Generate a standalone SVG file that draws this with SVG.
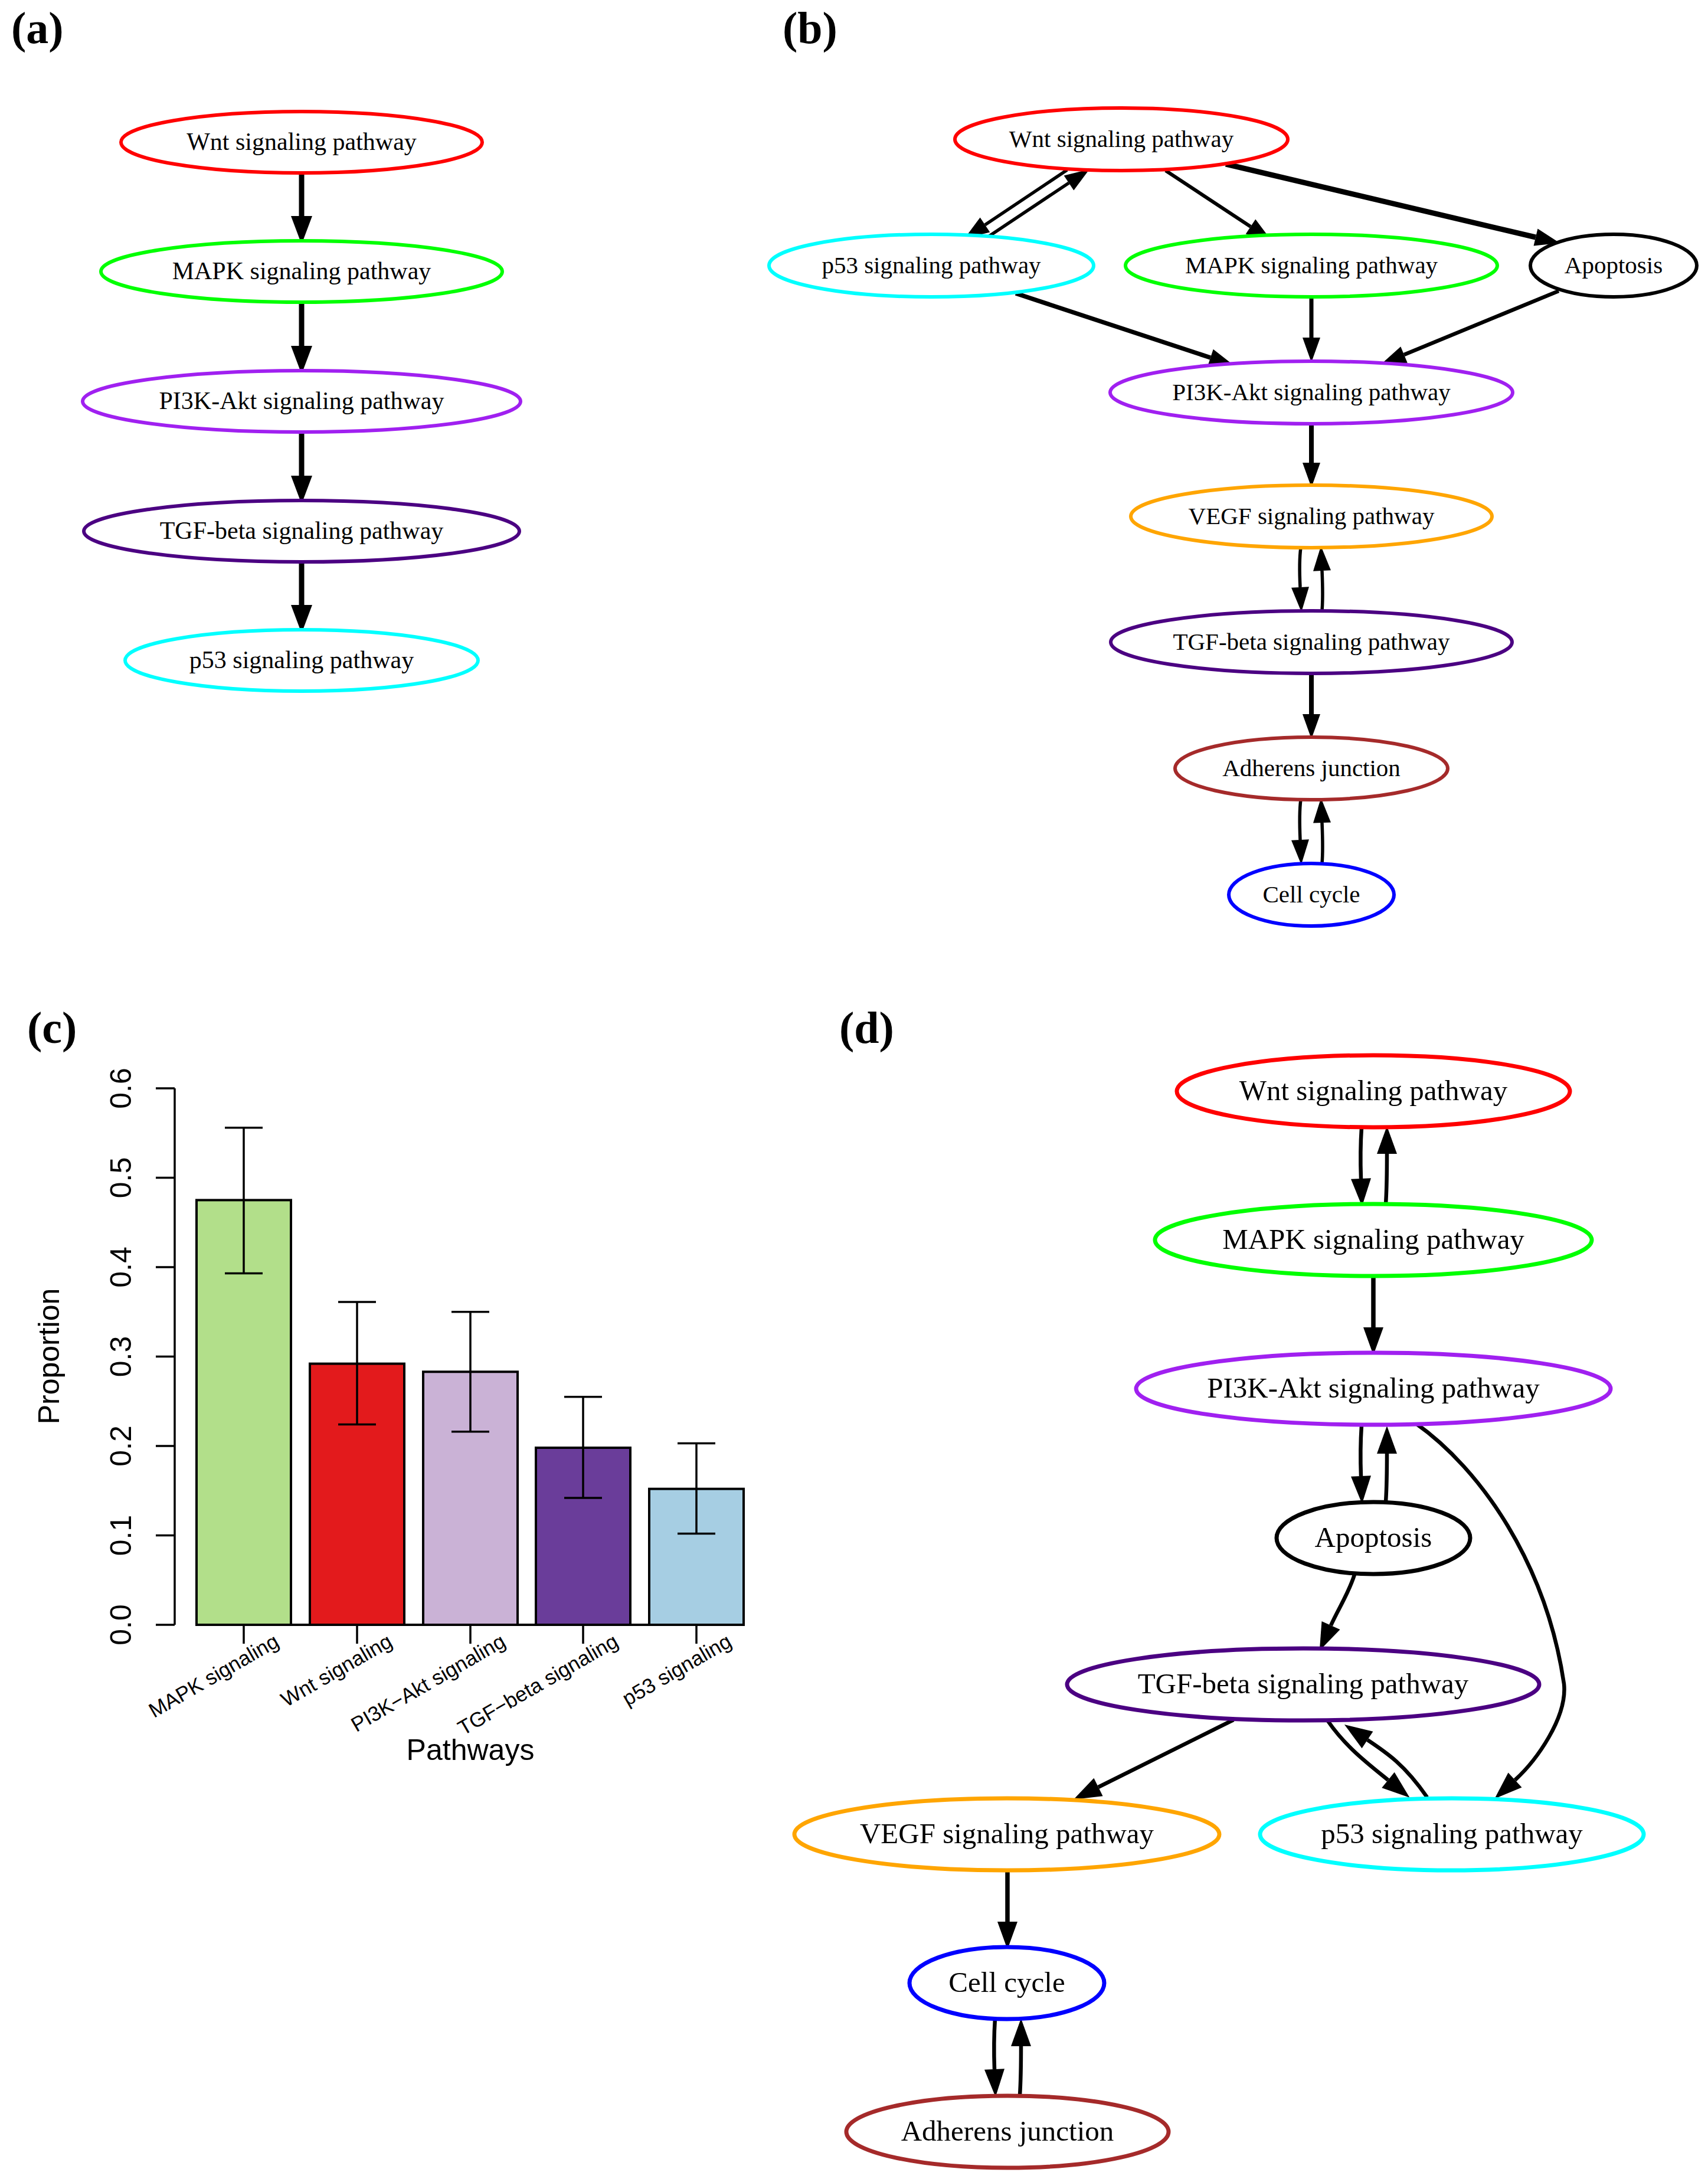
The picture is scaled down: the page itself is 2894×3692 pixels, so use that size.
<svg xmlns="http://www.w3.org/2000/svg" width="2894" height="3692" viewBox="0 0 2894 3692">
<style>
.lbl{font-family:"Liberation Serif","Times New Roman",serif;font-weight:bold;font-size:76px;fill:#000}
.na{font-family:"Liberation Serif","Times New Roman",serif;font-size:42px;text-anchor:middle;fill:#000}
.nb{font-family:"Liberation Serif","Times New Roman",serif;font-size:41px;text-anchor:middle;fill:#000}
.nd{font-family:"Liberation Serif","Times New Roman",serif;font-size:49px;text-anchor:middle;fill:#000}
.e6{fill:#fff;stroke-width:6}
.e7{fill:#fff;stroke-width:7}
.ea{fill:none;stroke:#000;stroke-width:9;marker-end:url(#arrA)}
.eb{fill:none;stroke:#000;stroke-width:5.5;marker-end:url(#arrB)}
.ed{fill:none;stroke:#000;stroke-width:6.5;marker-end:url(#arrD)}
.ax{font-family:"Liberation Sans",Arial,sans-serif;fill:#000}
.bar{stroke:#000;stroke-width:4}
.k{stroke:#000;stroke-width:3.5;fill:none}
</style>
<defs>
<marker id="arrA" markerUnits="userSpaceOnUse" markerWidth="48" markerHeight="36" refX="0" refY="18" orient="auto" overflow="visible"><path d="M0,0 L48,18 L0,36 Z" fill="#000"/></marker>
<marker id="arrB" markerUnits="userSpaceOnUse" markerWidth="42" markerHeight="30" refX="0" refY="15" orient="auto" overflow="visible"><path d="M0,0 L42,15 L0,30 Z" fill="#000"/></marker>
<marker id="arrD" markerUnits="userSpaceOnUse" markerWidth="47" markerHeight="34" refX="0" refY="17" orient="auto" overflow="visible"><path d="M0,0 L47,17 L0,34 Z" fill="#000"/></marker>
</defs>
<rect x="0" y="0" width="2894" height="3692" fill="#fff"/>

<!-- panel labels -->
<text class="lbl" x="19" y="73">(a)</text>
<text class="lbl" x="1326" y="73">(b)</text>
<text class="lbl" x="46" y="1767">(c)</text>
<text class="lbl" x="1422" y="1767">(d)</text>

<!-- ===== Panel (a) ===== -->
<g id="a-connectors">
<path class="ea" d="M511,293 L511,366"/>
<path class="ea" d="M511,512 L511,586"/>
<path class="ea" d="M511,732 L511,806"/>
<path class="ea" d="M511,952 L511,1025"/>
</g>
<g id="a-wnt"><ellipse class="e6" cx="511" cy="241" rx="306" ry="52" stroke="#FF0000"/><text class="na" x="511" y="254">Wnt signaling pathway</text></g>
<g id="a-mapk"><ellipse class="e6" cx="511" cy="460" rx="340" ry="52" stroke="#00FF00"/><text class="na" x="511" y="473">MAPK signaling pathway</text></g>
<g id="a-pi3k"><ellipse class="e6" cx="511" cy="680" rx="371" ry="52" stroke="#A020F0"/><text class="na" x="511" y="693">PI3K-Akt signaling pathway</text></g>
<g id="a-tgf"><ellipse class="e6" cx="511" cy="900" rx="369" ry="52" stroke="#4B0082"/><text class="na" x="511" y="913">TGF-beta signaling pathway</text></g>
<g id="a-p53"><ellipse class="e6" cx="511" cy="1119" rx="299" ry="52" stroke="#00FFFF"/><text class="na" x="511" y="1132">p53 signaling pathway</text></g>

<!-- ===== Panel (b) ===== -->
<g id="b-connectors">
<path class="eb" d="M1808,288 L1669,381"/>
<path class="eb" d="M1670,404 L1811,310"/>
<path class="eb" style="stroke-width:6" d="M1975,289 L2119,384"/>
<path class="eb" style="stroke-width:9" d="M2077,278 L2602,402"/>
<path class="eb" style="stroke-width:7.5" d="M1721,497 L2051,606"/>
<path class="eb" style="stroke-width:7" d="M2222,503 L2222,572"/>
<path class="eb" style="stroke-width:6.5" d="M2641,493 L2379,601"/>
<path class="eb" style="stroke-width:8" d="M2222,718 L2222,784"/>
<path class="eb" d="M2204,928 C2201,950 2202,975 2203,995"/>
<path class="eb" d="M2240,1035 C2242,1010 2241,990 2240,967"/>
<path class="eb" style="stroke-width:8" d="M2222,1141 L2222,1210"/>
<path class="eb" d="M2204,1355 C2201,1377 2202,1400 2203,1423"/>
<path class="eb" d="M2240,1463 C2242,1440 2241,1418 2240,1394"/>
</g>
<g id="b-wnt"><ellipse class="e6" cx="1900" cy="236" rx="282" ry="53" stroke="#FF0000"/><text class="nb" x="1900" y="249">Wnt signaling pathway</text></g>
<g id="b-p53"><ellipse class="e6" cx="1578" cy="450" rx="275" ry="53" stroke="#00FFFF"/><text class="nb" x="1578" y="463">p53 signaling pathway</text></g>
<g id="b-mapk"><ellipse class="e6" cx="2222" cy="450" rx="315" ry="53" stroke="#00FF00"/><text class="nb" x="2222" y="463">MAPK signaling pathway</text></g>
<g id="b-apoptosis"><ellipse class="e6" cx="2734" cy="450" rx="141" ry="53" stroke="#000000"/><text class="nb" x="2734" y="463">Apoptosis</text></g>
<g id="b-pi3k"><ellipse class="e6" cx="2222" cy="665" rx="341" ry="53" stroke="#A020F0"/><text class="nb" x="2222" y="678">PI3K-Akt signaling pathway</text></g>
<g id="b-vegf"><ellipse class="e6" cx="2222" cy="875" rx="306" ry="53" stroke="#FFA500"/><text class="nb" x="2222" y="888">VEGF signaling pathway</text></g>
<g id="b-tgf"><ellipse class="e6" cx="2222" cy="1088" rx="340" ry="53" stroke="#4B0082"/><text class="nb" x="2222" y="1101">TGF-beta signaling pathway</text></g>
<g id="b-adherens"><ellipse class="e6" cx="2222" cy="1302" rx="231" ry="53" stroke="#A52A2A"/><text class="nb" x="2222" y="1315">Adherens junction</text></g>
<g id="b-cellcycle"><ellipse class="e6" cx="2222" cy="1516" rx="140" ry="53" stroke="#0000FF"/><text class="nb" x="2222" y="1529">Cell cycle</text></g>

<!-- ===== Panel (c) bar chart ===== -->
<g id="c-chart">
<line class="k" x1="296" y1="1844" x2="296" y2="2753"/>
<path class="k" d="M264,2753H296M264,2601.5H296M264,2450H296M264,2298.5H296M264,2147H296M264,1995.5H296M264,1844H296"/>
<g class="ax" font-size="50" text-anchor="middle">
<text transform="translate(222,2753) rotate(-90)">0.0</text>
<text transform="translate(222,2601.5) rotate(-90)">0.1</text>
<text transform="translate(222,2450) rotate(-90)">0.2</text>
<text transform="translate(222,2298.5) rotate(-90)">0.3</text>
<text transform="translate(222,2147) rotate(-90)">0.4</text>
<text transform="translate(222,1995.5) rotate(-90)">0.5</text>
<text transform="translate(222,1844) rotate(-90)">0.6</text>
<text transform="translate(100,2298) rotate(-90)">Proportion</text>
</g>
<g id="c-bars">
<rect class="bar" x="333" y="2033.4" width="160" height="719.6" fill="#B2DF8A"/>
<rect class="bar" x="525" y="2310.6" width="160" height="442.4" fill="#E31A1C"/>
<rect class="bar" x="717" y="2324.3" width="160" height="428.7" fill="#CAB2D6"/>
<rect class="bar" x="908" y="2453" width="160" height="300" fill="#6A3D9A"/>
<rect class="bar" x="1100" y="2522.7" width="160" height="230.3" fill="#A6CEE3"/>
<line class="k" style="stroke-width:4" x1="333" y1="2753" x2="1260" y2="2753"/>
</g>
<g id="c-errorbars" class="k">
<path d="M413,1910.7V2157.6M381,1910.7H445M381,2157.6H445"/>
<path d="M605,2206.1V2413.6M573,2206.1H637M573,2413.6H637"/>
<path d="M797,2222.8V2425.8M765,2222.8H829M765,2425.8H829"/>
<path d="M988,2366.7V2537.9M956,2366.7H1020M956,2537.9H1020"/>
<path d="M1180,2445.5V2598.5M1148,2445.5H1212M1148,2598.5H1212"/>
</g>
<path class="k" d="M413,2753V2785M605,2753V2785M797,2753V2785M988,2753V2785M1180,2753V2785"/>
<g class="ax" font-size="35" text-anchor="end">
<text transform="translate(475,2788) rotate(-30)">MAPK signaling</text>
<text transform="translate(667,2788) rotate(-30)">Wnt signaling</text>
<text transform="translate(859,2788) rotate(-30)">PI3K−Akt signaling</text>
<text transform="translate(1050,2788) rotate(-30)">TGF−beta signaling</text>
<text transform="translate(1242,2788) rotate(-30)">p53 signaling</text>
</g>
<text class="ax" font-size="50" text-anchor="middle" x="797" y="2982">Pathways</text>
</g>

<!-- ===== Panel (d) ===== -->
<g id="d-connectors">
<path class="ed" d="M2307,1911 C2305,1940 2305,1970 2306,1997"/>
<path class="ed" d="M2348,2040 C2350,2010 2350,1980 2350,1955"/>
<path class="ed" style="stroke-width:7.5" d="M2327,2163 L2327,2249"/>
<path class="ed" d="M2307,2415 C2305,2445 2305,2475 2306,2501"/>
<path class="ed" d="M2348,2545 C2350,2515 2350,2490 2350,2463"/>
<path class="ed" d="M2398,2411 C2510,2490 2620,2650 2650,2853 C2656,2910 2603,2983 2567,3016"/>
<path class="ed" d="M2295,2668 C2285,2700 2268,2725 2255,2754"/>
<path class="ed" d="M2090,2914 L1861,3028"/>
<path class="ed" d="M2250,2916 C2280,2960 2320,2990 2352,3016"/>
<path class="ed" d="M2418,3045 C2380,2990 2350,2970 2317,2948"/>
<path class="ed" style="stroke-width:7.5" d="M1707,3170 L1707,3256"/>
<path class="ed" d="M1686,3420 C1684,3450 1684,3480 1685,3506"/>
<path class="ed" d="M1728,3550 C1730,3520 1730,3495 1730,3467"/>
</g>
<g id="d-wnt"><ellipse class="e7" cx="2327" cy="1849" rx="333" ry="61" stroke="#FF0000"/><text class="nd" x="2327" y="1864">Wnt signaling pathway</text></g>
<g id="d-mapk"><ellipse class="e7" cx="2327" cy="2101" rx="370" ry="61" stroke="#00FF00"/><text class="nd" x="2327" y="2116">MAPK signaling pathway</text></g>
<g id="d-pi3k"><ellipse class="e7" cx="2327" cy="2353" rx="402" ry="61" stroke="#A020F0"/><text class="nd" x="2327" y="2368">PI3K-Akt signaling pathway</text></g>
<g id="d-apoptosis"><ellipse class="e7" cx="2327" cy="2606" rx="164" ry="61" stroke="#000000"/><text class="nd" x="2327" y="2621">Apoptosis</text></g>
<g id="d-tgf"><ellipse class="e7" cx="2208" cy="2854" rx="400" ry="61" stroke="#4B0082"/><text class="nd" x="2208" y="2869">TGF-beta signaling pathway</text></g>
<g id="d-vegf"><ellipse class="e7" cx="1706" cy="3108" rx="360" ry="61" stroke="#FFA500"/><text class="nd" x="1706" y="3123">VEGF signaling pathway</text></g>
<g id="d-p53"><ellipse class="e7" cx="2460" cy="3108" rx="325" ry="61" stroke="#00FFFF"/><text class="nd" x="2460" y="3123">p53 signaling pathway</text></g>
<g id="d-cellcycle"><ellipse class="e7" cx="1706" cy="3360" rx="165" ry="61" stroke="#0000FF"/><text class="nd" x="1706" y="3375">Cell cycle</text></g>
<g id="d-adherens"><ellipse class="e7" cx="1707" cy="3612" rx="273" ry="61" stroke="#A52A2A"/><text class="nd" x="1707" y="3627">Adherens junction</text></g>
</svg>
